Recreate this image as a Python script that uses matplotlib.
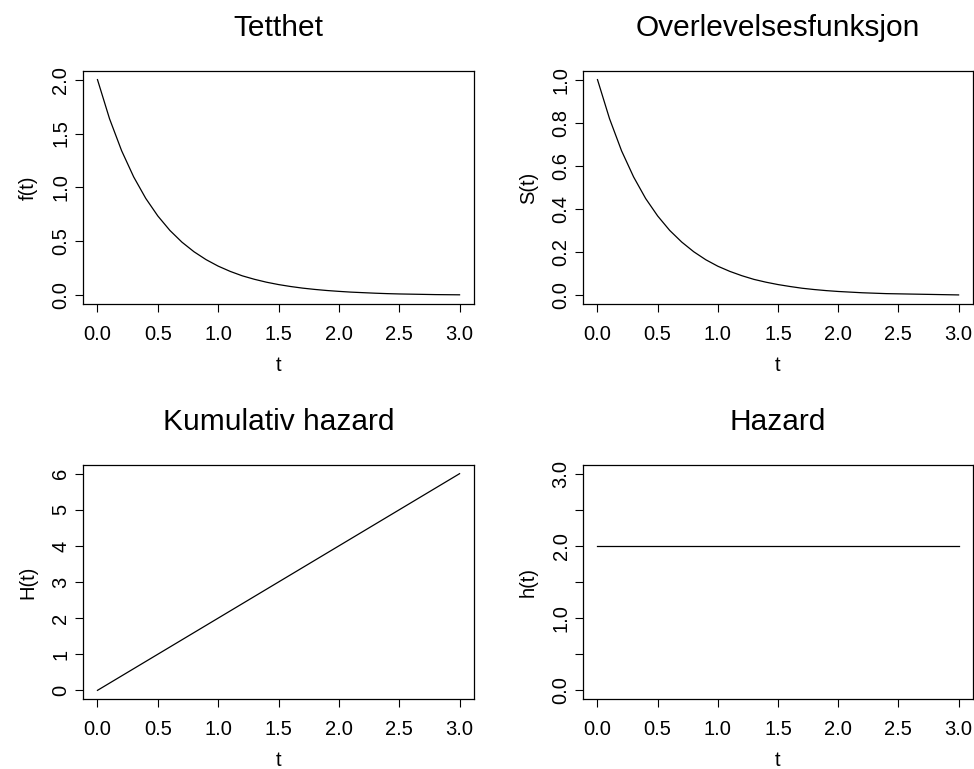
import matplotlib
matplotlib.use("Agg")
import matplotlib.pyplot as plt

plt.rcParams['font.family'] = ['Liberation Sans', 'DejaVu Sans']

# tidspunkter og verdier for eksponentialfordelingen
t = [0.0, 0.1, 0.2, 0.3, 0.4, 0.5, 0.6, 0.7, 0.8, 0.9, 1.0,
     1.1, 1.2, 1.3, 1.4, 1.5, 1.6, 1.7, 1.8, 1.9, 2.0,
     2.1, 2.2, 2.3, 2.4, 2.5, 2.6, 2.7, 2.8, 2.9, 3.0]
tetthet = [2.000, 1.637, 1.341, 1.098, 0.899, 0.736, 0.602, 0.493, 0.404, 0.331, 0.271,
           0.222, 0.181, 0.149, 0.122, 0.100, 0.082, 0.067, 0.055, 0.045, 0.037,
           0.030, 0.025, 0.020, 0.016, 0.013, 0.011, 0.009, 0.007, 0.006, 0.005]
overlevelse = [1.000, 0.819, 0.670, 0.549, 0.449, 0.368, 0.301, 0.247, 0.202, 0.165, 0.135,
               0.111, 0.091, 0.074, 0.061, 0.050, 0.041, 0.033, 0.027, 0.022, 0.018,
               0.015, 0.012, 0.010, 0.008, 0.007, 0.006, 0.005, 0.004, 0.003, 0.002]
t_lin = [0.0, 3.0]
kum_hazard = [0.0, 6.0]
hazard = [2.0, 2.0]

x_ticks = [0.0, 0.5, 1.0, 1.5, 2.0, 2.5, 3.0]
x_labels = ["0.0", "0.5", "1.0", "1.5", "2.0", "2.5", "3.0"]

fig = plt.figure(figsize=(9.74, 7.69), dpi=100)

posisjoner = [
    [0.0852, 0.6047, 0.4015, 0.3030],
    [0.5986, 0.6047, 0.4004, 0.3030],
    [0.0852, 0.0910, 0.4015, 0.3043],
    [0.5986, 0.0910, 0.4004, 0.3043],
]

paneler = [
    (t, tetthet, "Tetthet", "f(t)", (0, 2),
     [0.0, 0.5, 1.0, 1.5, 2.0], ["0.0", "0.5", "1.0", "1.5", "2.0"]),
    (t, overlevelse, "Overlevelsesfunksjon", "S(t)", (0, 1),
     [0.0, 0.2, 0.4, 0.6, 0.8, 1.0], ["0.0", "0.2", "0.4", "0.6", "0.8", "1.0"]),
    (t_lin, kum_hazard, "Kumulativ hazard", "H(t)", (0, 6),
     [0, 1, 2, 3, 4, 5, 6], ["0", "1", "2", "3", "4", "5", "6"]),
    (t_lin, hazard, "Hazard", "h(t)", (0, 3),
     [0.0, 0.5, 1.0, 1.5, 2.0, 2.5, 3.0], ["0.0", "", "1.0", "", "2.0", "", "3.0"]),
]

for pos, (x, y, tittel, ylab, (y0, y1), yt, yl) in zip(posisjoner, paneler):
    ax = fig.add_axes(pos)
    ax.plot(x, y, color="black", lw=0.9)
    ax.set_xlim(-0.12, 3.12)
    pad = 0.04 * (y1 - y0)
    ax.set_ylim(y0 - pad, y1 + pad)
    ax.set_xticks(x_ticks)
    ax.set_xticklabels(x_labels)
    ax.set_yticks(yt)
    ax.set_yticklabels(yl, rotation=90, va="center")
    ax.tick_params(direction="out", length=6, width=0.8, labelsize=14.5)
    ax.tick_params(axis="x", pad=9)
    ax.tick_params(axis="y", pad=3)
    for s in ax.spines.values():
        s.set_linewidth(0.9)
    ax.set_title(tittel, fontsize=21.5, pad=25)
    ax.set_xlabel("t", fontsize=14.5, labelpad=9)
    ax.set_ylabel(ylab, fontsize=14.5, labelpad=10)

fig.savefig("out.png", dpi=100)
